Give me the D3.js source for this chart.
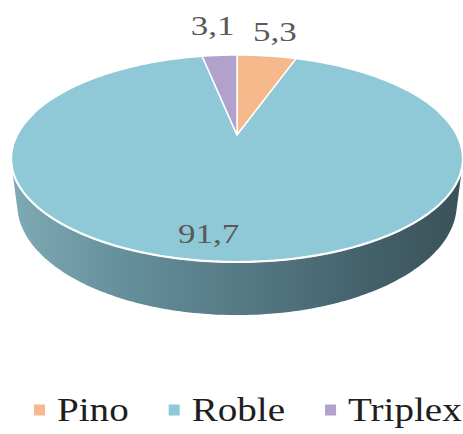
<!DOCTYPE html>
<html>
<head>
<meta charset="utf-8">
<script src="https://cdn.jsdelivr.net/npm/d3@7"></script>
<style>
  html, body { margin: 0; padding: 0; background: #fff; }
  svg { display: block; }
</style>
</head>
<body>
<div id="chart"></div>
<script>
// Data
const categories = ["Pino", "Roble", "Triplex"];
const values = [5.3, 91.7, 3.1];
const valueLabels = ["5,3", "91,7", "3,1"];
const sliceColors = ["#f6b98b", "#8fc9d7", "#b2a0cd"];

// Dimensions
const width = 463;
const height = 434;
const fontFamily = "'Liberation Serif', 'DejaVu Serif', serif";

// 3D view settings (tilt, camera distance, focal length, thickness)
const tilt = 26.5 * Math.PI / 180;
const camDist = 3.943;
const focal = 867.5;
const thick = 0.2324;
const cx = 237, cy = 135;

function project(theta, r, y0) {
    const X = r * Math.sin(theta);
    const Z = -r * Math.cos(theta);
    const depth = camDist - y0 * Math.sin(tilt) - Z * Math.cos(tilt);
    const up = y0 * Math.cos(tilt) - Z * Math.sin(tilt);
    return [cx + focal * X / depth, cy - focal * up / depth];
}

const svg = d3.select("#chart")
    .append("svg")
    .attr("width", width)
    .attr("height", height);

const color = d3.scaleOrdinal().domain(categories).range(sliceColors);

// side gradient
const defs = svg.append("defs");
const grad = defs.append("linearGradient")
    .attr("id", "side")
    .attr("x1", "0%").attr("x2", "100%").attr("y1", "0%").attr("y2", "0%");
[["0%", "#7eaab6"], ["25%", "#648f9b"], ["55%", "#537682"], ["80%", "#43606a"], ["100%", "#3a5258"]]
    .forEach(s => grad.append("stop").attr("offset", s[0]).attr("stop-color", s[1]));

// cylinder body: hull of top and bottom outlines
const step = Math.PI / 180;
const rim = [];
for (let t = 0; t < 2 * Math.PI; t += step) {
    rim.push(project(t, 1, 0));
    rim.push(project(t, 1, -thick));
}
const hull = d3.polygonHull(rim);
svg.append("path")
    .attr("d", "M" + hull.join("L") + "Z")
    .attr("fill", "url(#side)");

// top face slices
const pie = d3.pie().sort(null).value(d => d.value);
const data = categories.map((c, i) => ({ name: c, value: values[i], label: valueLabels[i] }));
const arcs = pie(data);

const line = d3.line();
function slicePath(a) {
    const pts = [project(0, 0, 0)];
    const n = Math.max(2, Math.ceil((a.endAngle - a.startAngle) / step));
    for (let k = 0; k <= n; k++) {
        const t = a.startAngle + (a.endAngle - a.startAngle) * k / n;
        pts.push(project(t, 1, 0));
    }
    return line(pts) + "Z";
}

svg.selectAll("path.slice")
    .data(arcs)
    .join("path")
    .attr("class", "slice")
    .attr("d", slicePath)
    .attr("fill", d => color(d.data.name))
    .attr("stroke", "#fff")
    .attr("stroke-width", 1.5)
    .attr("stroke-linejoin", "round");

// white highlight along the front edge
const front = [];
for (let t = Math.PI * 0.42; t <= Math.PI * 1.58; t += step) front.push(project(t, 1, 0));
svg.append("path")
    .attr("d", line(front))
    .attr("fill", "none")
    .attr("stroke", "#fff")
    .attr("stroke-width", 2.2)
    .attr("opacity", 0.9);

// value labels
svg.selectAll("text.val")
    .data(arcs)
    .join("text")
    .attr("class", "val")
    .attr("transform", d => {
        const mid = (d.startAngle + d.endAngle) / 2;
        const inside = d.data.value > 50;
        const p = project(mid, inside ? 0.82 : 1.22, 0);
        const dx = inside ? -13 : (mid > Math.PI ? -4 : 3);
        const dy = inside ? 0 : (mid > Math.PI ? -16 : -11);
        return `translate(${p[0] + dx},${p[1] + dy}) scale(1.25,1)`;
    })
    .attr("text-anchor", "middle")
    .attr("dy", "0.34em")
    .attr("font-family", fontFamily)
    .attr("font-size", 28)
    .attr("fill", "#595959")
    .text(d => d.data.label);

// legend
const legend = svg.append("g");
let lx = 34;
const ly = 410;
const lsx = 1.15;
categories.forEach((c, i) => {
    legend.append("rect")
        .attr("x", lx).attr("y", ly - 5.5)
        .attr("width", 11).attr("height", 11)
        .attr("fill", color(c));
    const t = legend.append("text")
        .attr("transform", `translate(${lx + 23},${ly + 11}) scale(${lsx},1)`)
        .attr("font-family", fontFamily)
        .attr("font-size", 34)
        .attr("fill", "#1e1e1e")
        .text(c);
    const w = t.node().getComputedTextLength() * lsx;
    lx += 23 + w + 40;
});
</script>
</body>
</html>
